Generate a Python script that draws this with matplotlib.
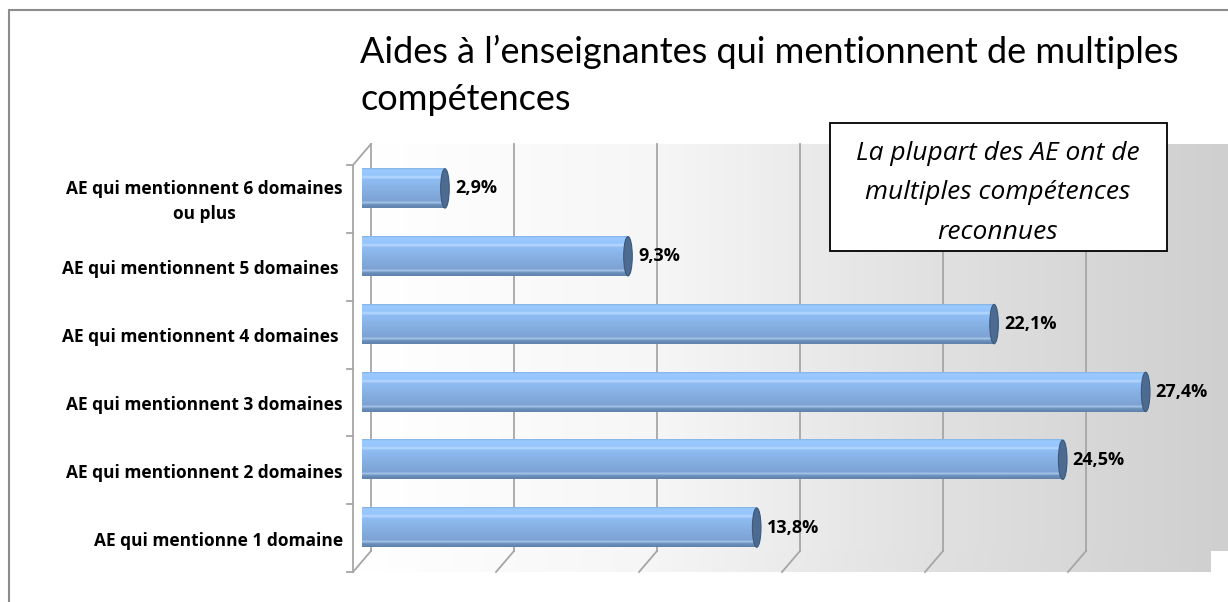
import numpy as np
import matplotlib
matplotlib.use('Agg')
import matplotlib.pyplot as plt
from matplotlib.colors import LinearSegmentedColormap
from matplotlib.patches import Rectangle, Ellipse, Polygon
from matplotlib.transforms import Affine2D

# Données (de bas en haut)
categories = ['AE qui mentionne 1 domaine',
              'AE qui mentionnent 2 domaines',
              'AE qui mentionnent 3 domaines',
              'AE qui mentionnent 4 domaines ',
              'AE qui mentionnent 5 domaines ',
              'AE qui mentionnent 6 domaines\nou plus']
values = [13.8, 24.5, 27.4, 22.1, 9.3, 2.9]
xticks = [0, 5, 10, 15, 20, 25, 30]

title_lines = ["Aides à l\u2019enseignantes qui mentionnent de multiples", "compétences"]
note = "La plupart des AE ont de\nmultiples compétences\nreconnues"

plt.rcParams['font.family'] = ['Lato', 'DejaVu Sans']
label_font = ['Open Sans', 'DejaVu Sans']

fig = plt.figure(figsize=(12.28, 6.02), dpi=100)
ax = fig.add_axes([353 / 1228, 30 / 602, 858 / 1228, 407 / 602])
ax.set_xlim(0, 30)
ax.set_ylim(-0.5, 5.5)
ax.axis('off')

# profondeur 3D (en unités de données)
dx, dy = 0.63, 0.31
back = Affine2D().translate(dx, dy) + ax.transData
mid = Affine2D().translate(dx / 2, dy / 2) + ax.transData

# fond dégradé (mur du fond + sol)
wall_cmap = LinearSegmentedColormap.from_list('wall', ['#ffffff', '#f6f6f6', '#e0e0e0', '#cfcfcf'])
grad = np.linspace(0, 1, 256).reshape(1, -1)
im = ax.imshow(grad, cmap=wall_cmap, aspect='auto', extent=(0, 30, -0.5, 5.5),
               transform=back, zorder=0, clip_on=False)
floor = Polygon([(0, -0.5), (30, -0.5), (30 + dx, -0.5 + dy), (dx, -0.5 + dy)],
                closed=True, facecolor='none', edgecolor='none', transform=ax.transData)
ax.add_patch(floor)
im2 = ax.imshow(grad, cmap=wall_cmap, aspect='auto', extent=(0, 30 + dx, -0.5, -0.5 + dy),
                zorder=0, clip_on=True)
im2.set_clip_path(floor)
ax.set_xlim(0, 30)
ax.set_ylim(-0.5, 5.5)

# quadrillage
gc = '#a6a6a6'
for x in xticks[:-1]:
    ax.plot([x + dx, x + dx], [-0.5 + dy, 5.5 + dy], color=gc, lw=1.3, zorder=1, clip_on=False)
    ax.plot([x, x + dx], [-0.5, -0.5 + dy], color=gc, lw=1.3, zorder=1, clip_on=False)

# axe vertical + graduations
ax.plot([0, 0], [-0.5, 5.5], color=gc, lw=1.3, zorder=1, clip_on=False)
ax.plot([0, dx], [5.5, 5.5 + dy], color=gc, lw=1.3, zorder=1, clip_on=False)
for yb in np.arange(-0.5, 6, 1):
    ax.plot([-0.22, 0], [yb, yb], color=gc, lw=1.3, zorder=1, clip_on=False)

# barres cylindriques
bar_cmap = LinearSegmentedColormap.from_list('cyl', [
    (0.0, '#5f82ad'), (0.08, '#6d91bd'), (0.13, '#a9c8ec'), (0.17, '#7ca3d3'),
    (0.45, '#86afe2'), (0.72, '#8ebdf3'), (0.78, '#b8d8ff'), (0.83, '#95c5fc'),
    (0.96, '#9acaff'), (1.0, '#88b4e6')])
vgrad = np.linspace(0, 1, 64).reshape(-1, 1)
ypos = np.arange(len(values))
bars = ax.barh(ypos, values, height=0.58, transform=mid, facecolor='none',
               edgecolor='none', zorder=3)
for b, v, y in zip(bars, values, ypos):
    x0, y0 = b.get_x(), b.get_y()
    w, h = b.get_width(), b.get_height()
    bi = ax.imshow(vgrad, cmap=bar_cmap, aspect='auto', origin='lower',
                   extent=(x0, x0 + w, y0, y0 + h), transform=mid, zorder=3, clip_on=False)
    bi.set_clip_path(b)
    ax.add_patch(Ellipse((x0 + w, y), 0.3, h, transform=mid, facecolor='#4d6b90',
                         edgecolor='#3e5877', lw=0.8, zorder=4))
    ax.text(v + 0.35, y, f"{v:.1f}%".replace('.', ','), transform=mid,
            ha='left', va='center', fontsize=13, fontweight='bold',
            family=label_font, zorder=5)

ax.set_xlim(0, 30)
ax.set_ylim(-0.5, 5.5)

# étiquettes des catégories
for y, lab in zip(ypos, categories):
    ax.text(-0.35, y - 0.04, lab, ha='right', va='center', multialignment='center',
            fontsize=12.5, fontweight='bold', family=label_font, linespacing=1.45)

# titre
fig.text(360 / 1228, 1 - 63 / 602, title_lines[0], ha='left', va='baseline', fontsize=26)
fig.text(360 / 1228, 1 - 110 / 602, title_lines[1], ha='left', va='baseline', fontsize=26)

# encadré
fig.patches.append(Rectangle((830 / 1228, 1 - 251 / 602), 337 / 1228, 128 / 602,
                             transform=fig.transFigure, facecolor='white',
                             edgecolor='black', lw=1.3, zorder=6))
fig.text(998 / 1228, 1 - 193 / 602, note, ha='center', va='center', fontsize=19,
         style='italic', family=label_font, linespacing=1.75, zorder=7)

# cadre extérieur
fig.patches.append(Rectangle((9 / 1228, -0.1), 1.2, 1.1 - 10 / 602, transform=fig.transFigure,
                             facecolor='none', edgecolor='#8c8c8c', lw=1.5, zorder=0))

fig.savefig('out.png', dpi=100)
